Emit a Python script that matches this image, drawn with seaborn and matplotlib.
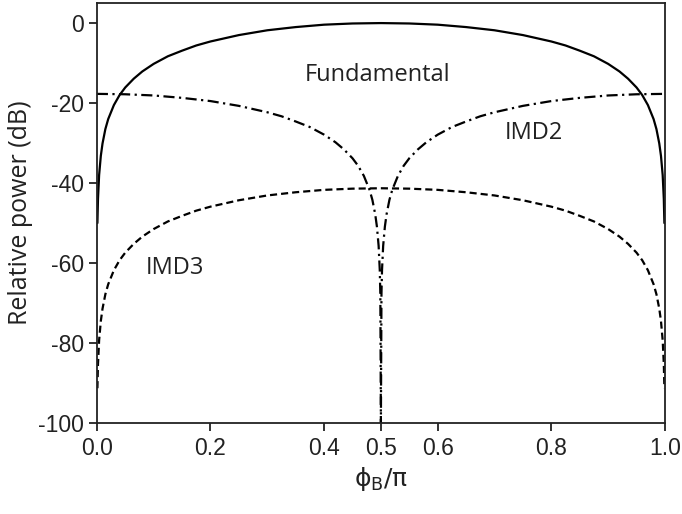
import matplotlib
matplotlib.use("Agg")
import matplotlib.pyplot as plt
import seaborn as sns
import pandas as pd

# Fundamental power vs. bias phase (dB)
phase_fund = [0.001, 0.002, 0.004, 0.007, 0.01, 0.015, 0.02, 0.03, 0.04, 0.05,
              0.065, 0.08, 0.1, 0.125, 0.15, 0.175, 0.2, 0.25, 0.3, 0.35, 0.4,
              0.45, 0.5, 0.55, 0.6, 0.65, 0.7, 0.75, 0.8, 0.825, 0.85, 0.875,
              0.9, 0.92, 0.935, 0.95, 0.96, 0.97, 0.98, 0.985, 0.99, 0.993,
              0.996, 0.998, 0.999]
fundamental = [-50.0, -44.0, -38.0, -33.2, -30.1, -26.5, -24.0, -20.5, -18.0, -16.1,
               -13.9, -12.1, -10.2, -8.3, -6.9, -5.6, -4.6, -3.0, -1.8, -1.0, -0.4,
               -0.1, 0.0, -0.1, -0.4, -1.0, -1.8, -3.0, -4.6, -5.6, -6.9, -8.3,
               -10.2, -12.1, -13.9, -16.1, -18.0, -20.5, -24.0, -26.5, -30.1, -33.2,
               -38.0, -44.0, -50.0]

# Third-order intermodulation (dB), same phase points
imd3 = [-91.3, -85.3, -79.3, -74.5, -71.4, -67.8, -65.3, -61.8, -59.3, -57.4,
        -55.2, -53.4, -51.5, -49.6, -48.2, -46.9, -45.9, -44.3, -43.1, -42.3, -41.7,
        -41.4, -41.3, -41.4, -41.7, -42.3, -43.1, -44.3, -45.9, -46.9, -48.2, -49.6,
        -51.5, -53.4, -55.2, -57.4, -59.3, -61.8, -65.3, -67.8, -71.4, -74.5,
        -79.3, -85.3, -91.3]

# Second-order intermodulation (dB)
phase_imd2 = [0.0, 0.05, 0.1, 0.15, 0.2, 0.25, 0.3, 0.325, 0.35, 0.375, 0.4,
              0.42, 0.435, 0.45, 0.46, 0.47, 0.48, 0.485, 0.49, 0.493, 0.496,
              0.498, 0.499, 0.5, 0.501, 0.502, 0.504, 0.507, 0.51, 0.515, 0.52,
              0.53, 0.54, 0.55, 0.565, 0.58, 0.6, 0.625, 0.65, 0.675, 0.7, 0.75,
              0.8, 0.85, 0.9, 0.95, 1.0]
imd2 = [-17.7, -17.8, -18.1, -18.7, -19.5, -20.7, -22.3, -23.3, -24.6, -26.0, -27.9,
        -29.8, -31.6, -33.8, -35.7, -38.2, -41.7, -44.2, -47.8, -50.9, -55.7,
        -61.7, -67.7, -100.0, -67.7, -61.7, -55.7, -50.9, -47.8, -44.2, -41.7,
        -38.2, -35.7, -33.8, -31.6, -29.8, -27.9, -26.0, -24.6, -23.3, -22.3, -20.7,
        -19.5, -18.7, -18.1, -17.8, -17.7]

x_ticks = [0.0, 0.2, 0.4, 0.5, 0.6, 0.8, 1.0]
x_tick_labels = ["0.0", "0.2", "0.4", "0.5", "0.6", "0.8", "1.0"]
y_ticks = [0, -20, -40, -60, -80, -100]
y_tick_labels = ["0", "-20", "-40", "-60", "-80", "-100"]

sns.set_theme(style="white")
plt.rcParams["font.family"] = ["Liberation Sans", "DejaVu Sans"]
plt.rcParams["axes.unicode_minus"] = False
plt.rcParams["mathtext.fontset"] = "dejavusans"

fig = plt.figure(figsize=(6.82, 5.14), dpi=100)
ax = fig.add_axes([0.142, 0.177, 0.833, 0.817])

df_fund = pd.DataFrame({"phase": phase_fund, "fund": fundamental, "imd3": imd3})
df_imd2 = pd.DataFrame({"phase": phase_imd2, "imd2": imd2})

lw = 1.6
sns.lineplot(data=df_fund, x="phase", y="fund", ax=ax, color="black", lw=lw,
             estimator=None, sort=False)
sns.lineplot(data=df_imd2, x="phase", y="imd2", ax=ax, color="black", lw=lw,
             estimator=None, sort=False)
ax.lines[-1].set_dashes((5, 2, 1, 2))
sns.lineplot(data=df_fund, x="phase", y="imd3", ax=ax, color="black", lw=lw,
             estimator=None, sort=False)
ax.lines[-1].set_dashes((3.2, 1.8))

ax.set_xlim(0, 1.0)
ax.set_ylim(-100, 5)
ax.set_xticks(x_ticks)
ax.set_xticklabels(x_tick_labels)
ax.set_yticks(y_ticks)
ax.set_yticklabels(y_tick_labels)
ax.xaxis.get_major_ticks()[3].tick1line.set_visible(False)

ax.tick_params(axis="both", direction="out", length=6, width=1.3, labelsize=16.5,
               colors="#222222", bottom=True, left=True, top=False, right=False)
ax.tick_params(axis="x", pad=4)
ax.tick_params(axis="y", pad=3)
for sp in ax.spines.values():
    sp.set_color("#222222")
    sp.set_linewidth(1.3)

label_font = dict(family=["Open Sans", "DejaVu Sans"], size=17, color="#222222")
ax.set_ylabel("Relative power (dB)", family=["Open Sans", "DejaVu Sans"],
              size=18, color="#222222", labelpad=4)
ax.set_xlabel(r"$\mathrm{\phi_B/\pi}$", fontsize=18, color="#222222", labelpad=4)

ax.text(0.495, -13, "Fundamental", ha="center", va="center", **label_font)
ax.text(0.77, -27.5, "IMD2", ha="center", va="center", **label_font)
ax.text(0.137, -61.3, "IMD3", ha="center", va="center", **label_font)

fig.savefig("out.png", dpi=100)
